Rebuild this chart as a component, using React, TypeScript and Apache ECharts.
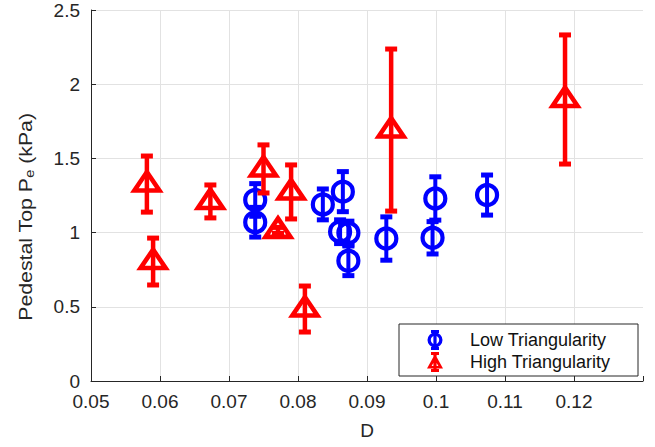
import React, { useEffect, useRef } from "react";
import * as echarts from "echarts";

// ---- data ----
const lowD = [0.0738, 0.0738, 0.0836, 0.0865, 0.0861, 0.0873, 0.0873, 0.0928, 0.0995, 0.0999, 0.1074];
const lowP = [1.22, 1.07, 1.19, 1.276, 1.006, 0.997, 0.81, 0.96, 0.965, 1.23, 1.253];
const lowErr = [0.11, 0.1, 0.104, 0.135, 0.08, 0.08, 0.1, 0.146, 0.109, 0.146, 0.135];

const highD = [0.0581, 0.059, 0.0673, 0.075, 0.0771, 0.079, 0.081, 0.0935, 0.1187];
const highP = [1.327, 0.805, 1.21, 1.429, 1.015, 1.274, 0.485, 1.691, 1.897];
const highErr = [0.189, 0.158, 0.111, 0.162, 0.02, 0.182, 0.155, 0.546, 0.435];

const seriesNames = ["Low Triangularity", "High Triangularity"];
const xTicks = { min: 0.05, max: 0.13, interval: 0.01 };
const yTicks = { min: 0, max: 2.5, interval: 0.5 };

const BLUE = "#0000ff";
const RED = "#ff0000";
const TXT = "#262626";
const FONT = "'Liberation Sans', Arial, Helvetica, sans-serif";

const circleIcon =
  "path://M4 0H12V3H4Z M6.4 0H9.6V20H6.4Z M4 17H12V20H4Z " +
  "M0.5 10A7.5 7.5 0 1 1 15.5 10A7.5 7.5 0 1 1 0.5 10Z M3.8 10A4.2 4.2 0 1 0 12.2 10A4.2 4.2 0 1 0 3.8 10Z";
const triIcon =
  "path://M4 0H12V3H4Z M6.4 0H9.6V20H6.4Z M4 17H12V20H4Z " +
  "M8 2L16 16.5L0 16.5Z M8 8.2L4.6 14L11.4 14Z";

function makeRender(shape: "circle" | "triangle", color: string) {
  return (params: any, api: any) => {
    const x = api.value(0);
    const y = api.value(1);
    const e = api.value(2);
    const c = api.coord([x, y]);
    const t = api.coord([x, y + e]);
    const b = api.coord([x, y - e]);
    const capW = 6;
    const children: any[] = [
      { type: "line", shape: { x1: c[0], y1: t[1], x2: c[0], y2: b[1] }, style: { stroke: color, lineWidth: shape === "circle" ? 4 : 4.5 } },
      { type: "line", shape: { x1: c[0] - capW, y1: t[1], x2: c[0] + capW, y2: t[1] }, style: { stroke: color, lineWidth: 5 } },
      { type: "line", shape: { x1: c[0] - capW, y1: b[1], x2: c[0] + capW, y2: b[1] }, style: { stroke: color, lineWidth: 5 } },
    ];
    if (shape === "circle") {
      children.push({ type: "circle", shape: { cx: c[0], cy: c[1], r: 10 }, style: { fill: "none", stroke: color, lineWidth: 4.2 } });
    } else {
      children.push({
        type: "polygon",
        shape: { points: [[c[0], c[1] - 12], [c[0] + 12.5, c[1] + 6.5], [c[0] - 12.5, c[1] + 6.5]] },
        style: { fill: "none", stroke: color, lineWidth: 4.6 },
      });
    }
    return { type: "group", children };
  };
}

export default function App() {
  const ref = useRef<HTMLDivElement>(null);
  useEffect(() => {
    if (!ref.current) return;
    const chart = echarts.init(ref.current, null, { renderer: "svg" });
    const lowData = lowD.map((d, i) => [d, lowP[i], lowErr[i]]);
    const highData = highD.map((d, i) => [d, highP[i], highErr[i]]);
    chart.setOption({
      animation: false,
      grid: { left: 91, top: 10, right: 12, bottom: 66, containLabel: false },
      xAxis: {
        type: "value",
        min: xTicks.min,
        max: xTicks.max,
        interval: xTicks.interval,
        name: "D",
        nameLocation: "middle",
        nameGap: 40,
        nameTextStyle: { color: TXT, fontSize: 19, fontFamily: FONT },
        axisLine: { onZero: false, lineStyle: { color: TXT, width: 1 } },
        axisTick: { inside: true, length: 5, lineStyle: { color: TXT } },
        axisLabel: {
          color: TXT,
          fontSize: 19,
          fontFamily: FONT,
          margin: 11,
          formatter: (v: number) => (v > 0.1295 ? "" : String(+v.toFixed(2))),
        },
        splitLine: { show: true, showMinLine: false, showMaxLine: false, lineStyle: { color: "#e2e2e2", width: 1 } },
      },
      yAxis: {
        type: "value",
        min: yTicks.min,
        max: yTicks.max,
        interval: yTicks.interval,
        axisLine: { show: true, onZero: false, lineStyle: { color: TXT, width: 1 } },
        axisTick: { show: true, inside: true, length: 5, lineStyle: { color: TXT } },
        axisLabel: { color: TXT, fontSize: 19, fontFamily: FONT, margin: 11, formatter: (v: number) => String(+v.toFixed(1)) },
        splitLine: { show: true, showMinLine: false, lineStyle: { color: "#e2e2e2", width: 1 } },
      },
      legend: {
        orient: "vertical",
        left: 427,
        top: 330,
        padding: 0,
        itemGap: 2,
        itemWidth: 16,
        itemHeight: 20,
        z: 10,
        textStyle: { color: "#111", fontSize: 18, fontFamily: FONT, padding: [0, 0, 0, 22] },
        data: [
          { name: seriesNames[0], icon: circleIcon, itemStyle: { color: BLUE, borderWidth: 0 } },
          { name: seriesNames[1], icon: triIcon, itemStyle: { color: RED, borderWidth: 0 } },
        ],
      },
      graphic: [
        {
          type: "rect",
          z: 5,
          shape: { x: 399, y: 324, width: 239, height: 52 },
          style: { fill: "#fff", stroke: TXT, lineWidth: 1 },
        },
        {
          type: "text",
          x: 25,
          y: 217,
          rotation: Math.PI / 2,
          scaleX: 1.12,
          style: {
            text: "{n|Pedestal Top P}{s|e}{n| (kPa)}",
            align: "center",
            verticalAlign: "middle",
            fill: TXT,
            rich: {
              n: { fontSize: 19, fontFamily: FONT, lineHeight: 22, fill: TXT },
              s: { fontSize: 13, fontFamily: FONT, lineHeight: 13, verticalAlign: "bottom", fill: TXT },
            },
          },
        },
      ],
      series: [
        {
          name: seriesNames[0],
          type: "custom",
          itemStyle: { color: BLUE },
          encode: { x: 0, y: 1 },
          data: lowData,
          renderItem: makeRender("circle", BLUE),
          z: 3,
        },
        {
          name: seriesNames[1],
          type: "custom",
          itemStyle: { color: RED },
          encode: { x: 0, y: 1 },
          data: highData,
          renderItem: makeRender("triangle", RED),
          z: 3,
        },
      ],
    });
    return () => chart.dispose();
  }, []);
  return <div ref={ref} style={{ position: "fixed", left: 0, top: 0, width: 655, height: 447, background: "#fff" }} />;
}
